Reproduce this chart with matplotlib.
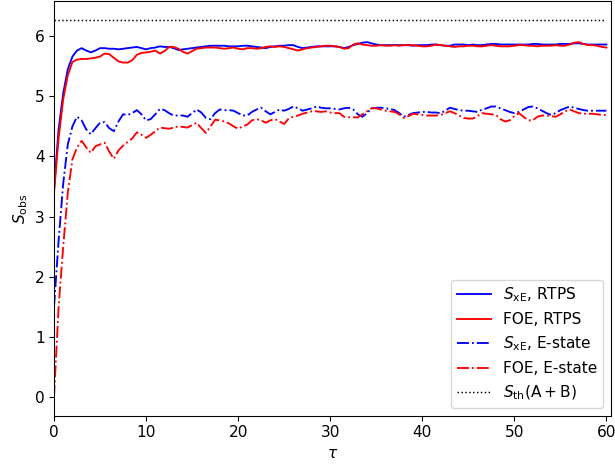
import numpy as np
import matplotlib
matplotlib.use("Agg")
import matplotlib.pyplot as plt

# Time grid (step 0.5)
tau = np.arange(0, 60.01, 0.5)

sxe_rtps = [
    3.45, 4.45, 5.05, 5.45, 5.66, 5.76, 5.80, 5.76, 5.73, 5.76,
    5.80, 5.80, 5.79, 5.79, 5.78, 5.79, 5.80, 5.81, 5.82, 5.80,
    5.78, 5.80, 5.81, 5.83, 5.82, 5.82, 5.80, 5.77, 5.78, 5.79,
    5.80, 5.81, 5.82, 5.83, 5.84, 5.84, 5.84, 5.84, 5.83, 5.83,
    5.83, 5.84, 5.84, 5.83, 5.82, 5.81, 5.80, 5.82, 5.83, 5.84,
    5.84, 5.85, 5.85, 5.82, 5.80, 5.81, 5.82, 5.83, 5.83, 5.83,
    5.83, 5.83, 5.82, 5.80, 5.82, 5.85, 5.87, 5.89, 5.90, 5.88,
    5.86, 5.85, 5.85, 5.85, 5.85, 5.85, 5.85, 5.85, 5.84, 5.85,
    5.85, 5.85, 5.86, 5.86, 5.85, 5.84, 5.84, 5.86, 5.86, 5.86,
    5.85, 5.86, 5.85, 5.85, 5.86, 5.87, 5.87, 5.86, 5.86, 5.86,
    5.86, 5.86, 5.86, 5.86, 5.87, 5.87, 5.86, 5.86, 5.86, 5.86,
    5.87, 5.87, 5.87, 5.88, 5.88, 5.87, 5.86, 5.86, 5.86, 5.86,
    5.86,
]

foe_rtps = [
    3.40, 4.30, 4.95, 5.35, 5.57, 5.61, 5.62, 5.62, 5.63, 5.64,
    5.66, 5.71, 5.70, 5.64, 5.58, 5.56, 5.56, 5.60, 5.69, 5.72,
    5.73, 5.74, 5.76, 5.71, 5.75, 5.82, 5.82, 5.79, 5.74, 5.71,
    5.75, 5.79, 5.80, 5.81, 5.81, 5.81, 5.80, 5.79, 5.80, 5.81,
    5.79, 5.78, 5.80, 5.80, 5.79, 5.80, 5.82, 5.83, 5.82, 5.83,
    5.82, 5.80, 5.78, 5.76, 5.78, 5.80, 5.81, 5.82, 5.83, 5.84,
    5.84, 5.83, 5.82, 5.79, 5.80, 5.86, 5.88, 5.86, 5.85, 5.84,
    5.84, 5.85, 5.84, 5.84, 5.85, 5.84, 5.85, 5.85, 5.85, 5.84,
    5.83, 5.83, 5.84, 5.86, 5.85, 5.84, 5.83, 5.82, 5.83, 5.83,
    5.84, 5.84, 5.83, 5.83, 5.84, 5.85, 5.84, 5.83, 5.83, 5.83,
    5.84, 5.85, 5.85, 5.84, 5.84, 5.83, 5.84, 5.84, 5.84, 5.85,
    5.84, 5.84, 5.86, 5.89, 5.90, 5.87, 5.85, 5.85, 5.84, 5.82,
    5.81,
]

sxe_estate = [
    1.50, 2.60, 3.55, 4.20, 4.50, 4.66, 4.60, 4.45, 4.37, 4.47,
    4.56, 4.57, 4.47, 4.42, 4.58, 4.70, 4.69, 4.72, 4.77, 4.70,
    4.60, 4.62, 4.70, 4.79, 4.77, 4.72, 4.68, 4.68, 4.68, 4.66,
    4.72, 4.78, 4.73, 4.64, 4.62, 4.72, 4.78, 4.77, 4.77, 4.76,
    4.72, 4.68, 4.68, 4.74, 4.78, 4.81, 4.75, 4.70, 4.74, 4.78,
    4.76, 4.79, 4.83, 4.80, 4.76, 4.78, 4.80, 4.83, 4.81, 4.80,
    4.80, 4.79, 4.78, 4.80, 4.81, 4.78, 4.70, 4.66, 4.72, 4.80,
    4.81, 4.81, 4.80, 4.79, 4.77, 4.72, 4.66, 4.69, 4.72, 4.73,
    4.74, 4.74, 4.73, 4.73, 4.72, 4.76, 4.81, 4.79, 4.77, 4.76,
    4.76, 4.75, 4.74, 4.78, 4.80, 4.83, 4.83, 4.80, 4.77, 4.74,
    4.72, 4.74, 4.78, 4.82, 4.83, 4.80, 4.76, 4.72, 4.69, 4.72,
    4.77, 4.80, 4.83, 4.81, 4.79, 4.77, 4.76, 4.76, 4.76, 4.76,
    4.76,
]

foe_estate = [
    0.00, 1.50, 2.50, 3.40, 3.95, 4.15, 4.26, 4.15, 4.06, 4.17,
    4.20, 4.23, 4.08, 3.96, 4.10, 4.18, 4.24, 4.30, 4.40, 4.36,
    4.31, 4.36, 4.42, 4.48, 4.47, 4.46, 4.48, 4.50, 4.49, 4.48,
    4.52, 4.56, 4.47, 4.39, 4.50, 4.61, 4.60, 4.58, 4.55, 4.50,
    4.46, 4.50, 4.53, 4.60, 4.62, 4.60, 4.56, 4.60, 4.62, 4.58,
    4.54, 4.63, 4.66, 4.68, 4.71, 4.73, 4.75, 4.75, 4.74, 4.75,
    4.73, 4.72, 4.72, 4.66, 4.65, 4.65, 4.65, 4.70, 4.75, 4.80,
    4.80, 4.78, 4.76, 4.75, 4.74, 4.70, 4.64, 4.67, 4.71, 4.70,
    4.69, 4.68, 4.68, 4.68, 4.69, 4.72, 4.75, 4.72, 4.68, 4.64,
    4.63, 4.63, 4.67, 4.72, 4.71, 4.70, 4.69, 4.62, 4.58, 4.60,
    4.67, 4.72, 4.66, 4.60, 4.60, 4.66, 4.68, 4.68, 4.67, 4.66,
    4.70, 4.75, 4.78, 4.75, 4.72, 4.71, 4.71, 4.71, 4.70, 4.69,
    4.69,
]

s_th = 6.27

fs = 11.5

fig = plt.figure(figsize=(615 / 96, 468 / 96), dpi=96)
ax = fig.add_axes([54 / 615, 52 / 468, (611 - 54) / 615, (416 - 1) / 468])

ax.plot(tau, sxe_rtps, color="blue", lw=1.4, label=r"$S_{\rm xE}$, RTPS")
ax.plot(tau, foe_rtps, color="red", lw=1.4, label="FOE, RTPS")
ax.plot(tau, sxe_estate, color="blue", ls="-.", lw=1.4, label=r"$S_{\rm xE}$, E-state")
ax.plot(tau, foe_estate, color="red", ls="-.", lw=1.4, label="FOE, E-state")
ax.plot(tau, np.full_like(tau, s_th), color="black", ls=":", lw=1.1,
        label=r"$S_{\rm th}(\rm A+B)$")

ax.set_xlim(0, 60.5)
ax.set_xlabel(r"$\tau$", fontsize=fs)
ax.set_ylabel(r"$S_{\rm obs}$", fontsize=fs)
ax.tick_params(labelsize=fs)
ax.legend(loc="lower right", fontsize=fs, handlelength=2.2)

fig.savefig("out.png", dpi=96)
